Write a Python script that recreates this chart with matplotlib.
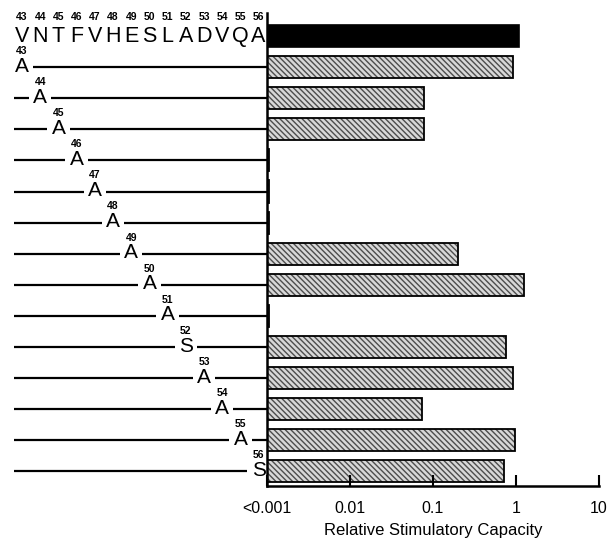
import matplotlib
matplotlib.use("Agg")
import matplotlib.pyplot as plt
import numpy as np

plt.rcParams['font.family'] = ['Liberation Sans', 'DejaVu Sans']

# ---- data ----
native_seq = list("VNTFVHESLADVQA")
residues = list(range(43, 57))
substitutions = ["A", "A", "A", "A", "A", "A", "A", "A", "A", "S", "A", "A", "A", "S"]
native_value = 1.1
values = [0.93, 0.077, 0.077, 0.00106, 0.00106, 0.00106, 0.2, 1.26, 0.00106,
          0.76, 0.93, 0.074, 0.98, 0.71]
tick_vals = [0.001, 0.01, 0.1, 1, 10]
tick_labels = ["<0.001", "0.01", "0.1", "1", "10"]
xlabel = "Relative Stimulatory Capacity"

W, H = 608, 540
fig = plt.figure(figsize=(W / 100, H / 100), dpi=100)

ax_l, ax_r, ax_t, ax_b = 267, 599, 13, 486
bottom = (H - ax_b) / H
height = (ax_b - ax_t) / H
ax = fig.add_axes([ax_l / W, bottom, (ax_r - ax_l) / W, height])
axL = fig.add_axes([0, bottom, ax_l / W, height], sharey=ax)

n = len(residues)
rows = np.arange(n + 1)
ylim = (n + 0.47, -0.74)

# ---- bars ----
xmin = tick_vals[0]
ax.barh(rows[0], native_value - xmin, left=xmin, height=0.71,
        color="black", edgecolor="black", linewidth=1.2)
vals = np.array(values)
ax.barh(rows[1:], vals - xmin, left=xmin, height=0.71, color="#d8d8d8",
        edgecolor="#4d4d4d", hatch="\\\\\\\\\\\\", linewidth=0)
ax.barh(rows[1:], vals - xmin, left=xmin, height=0.71, fill=False,
        edgecolor="black", linewidth=1.3)

ax.set_xscale("log")
ax.set_xlim(tick_vals[0], tick_vals[-1])
ax.set_ylim(*ylim)
ax.set_xticks(tick_vals)
ax.set_xticklabels(tick_labels, fontsize=11.5)
ax.minorticks_off()
ax.tick_params(axis="x", direction="in", length=8, width=1.5, pad=11)
ax.tick_params(axis="y", left=False, labelleft=False)
for s in ["top", "right"]:
    ax.spines[s].set_visible(False)
for s in ["left", "bottom"]:
    ax.spines[s].set_linewidth(1.8)
ax.set_xlabel(xlabel, fontsize=12)
ax.xaxis.set_label_coords(0.5, (ax_b - 523) / (ax_b - ax_t))

# ---- left panel: sequence ----
unit = 18.2
x0 = 43 - 22 / unit
x1 = 43 + (ax_l - 22) / unit
axL.set_xlim(x0, x1)
axL.set_ylim(*ylim)
axL.axis("off")

num_off = 0.52
for r, aa in zip(residues, native_seq):
    axL.text(r, rows[0], aa, ha="center", va="center", fontsize=15.5)
    axL.text(r, rows[0] - num_off - 0.08, str(r), ha="center", va="center",
             fontsize=7.5, fontweight="bold")

line_start = x0 + 14 / unit
gap = 0.62
for i, (r, aa) in enumerate(zip(residues, substitutions)):
    y = rows[i + 1]
    axL.text(r, y - 0.03, aa, ha="center", va="center", fontsize=15)
    axL.text(r, y - num_off, str(r), ha="center", va="center",
             fontsize=7.5, fontweight="bold")
    if r - gap > line_start:
        axL.plot([line_start, r - gap], [y, y], color="black", lw=1.6,
                 solid_capstyle="butt")
    if r + gap < x1:
        axL.plot([r + gap, x1], [y, y], color="black", lw=1.6,
                 solid_capstyle="butt")

fig.savefig("out.png", dpi=100)
